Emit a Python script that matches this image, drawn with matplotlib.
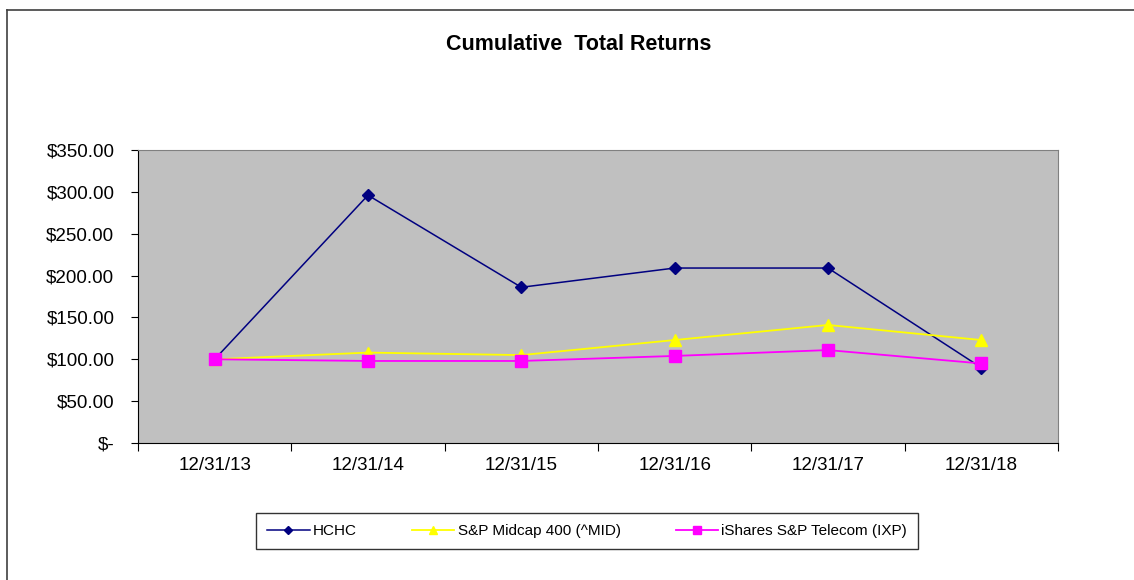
import matplotlib.pyplot as plt
from matplotlib.lines import Line2D
from matplotlib.ticker import FuncFormatter

dates = ["12/31/13", "12/31/14", "12/31/15", "12/31/16", "12/31/17", "12/31/18"]
hchc = [100, 296, 186, 209, 209, 90]
midcap = [100, 108, 105, 123, 141, 123]
telecom = [100, 98, 98, 104, 111, 95]

plt.rcParams["font.family"] = ["Liberation Sans", "DejaVu Sans"]

fig = plt.figure(figsize=(11.34, 5.8), dpi=100)
ax = fig.add_axes([138 / 1134, 137 / 580, 920 / 1134, 293 / 580])
ax.set_facecolor("#c0c0c0")

x = range(len(dates))
ax.plot(x, hchc, color="#000080", lw=1.1, marker="D", ms=6, label="HCHC")
ax.plot(x, midcap, color="#ffff00", lw=1.3, marker="^", ms=8, label="S&P Midcap 400 (^MID)")
ax.plot(x, telecom, color="#ff00ff", lw=1.3, marker="s", ms=8, label="iShares S&P Telecom (IXP)")

ax.set_xlim(-0.5, len(dates) - 0.5)
ax.set_ylim(0, 350)
ax.set_yticks(range(0, 351, 50))
ax.yaxis.set_major_formatter(FuncFormatter(lambda v, p: "$-" if v == 0 else f"${v:.2f}"))
ax.set_xticks([i + 0.5 for i in range(-1, len(dates))])
ax.set_xticklabels([])
ax.set_xticks(list(x), minor=True)
ax.set_xticklabels(dates, minor=True)
ax.tick_params(axis="x", which="minor", length=0, labelsize=13.5, pad=10)
ax.tick_params(axis="x", which="major", length=6, direction="out")
ax.tick_params(axis="y", length=5, labelsize=13.5, pad=12)

for side in ["top", "right"]:
    ax.spines[side].set_color("#808080")
    ax.spines[side].set_linewidth(0.8)
for side in ["left", "bottom"]:
    ax.spines[side].set_color("black")

fig.text(0.51, 1 - 45 / 580, "Cumulative  Total Returns", ha="center", va="center",
         fontsize=15.5, fontweight="bold",
         family=["Liberation Sans Narrow", "Liberation Sans", "DejaVu Sans"])

leg = fig.legend(loc="center", bbox_to_anchor=(587 / 1134, 1 - 531 / 580), ncol=3,
                 fontsize=11, frameon=True, fancybox=False, edgecolor="black",
                 handlelength=2.8, handletextpad=0.2, columnspacing=3.6,
                 borderpad=0.7, borderaxespad=0, markerscale=0.7)
leg.get_frame().set_linewidth(1.0)

fig.add_artist(Line2D([7 / 1134, 1], [1 - 10 / 580, 1 - 10 / 580], color="#404040", lw=1.2))
fig.add_artist(Line2D([7 / 1134, 7 / 1134], [0, 1 - 10 / 580], color="#404040", lw=1.2))

fig.savefig("out.png", dpi=100)
